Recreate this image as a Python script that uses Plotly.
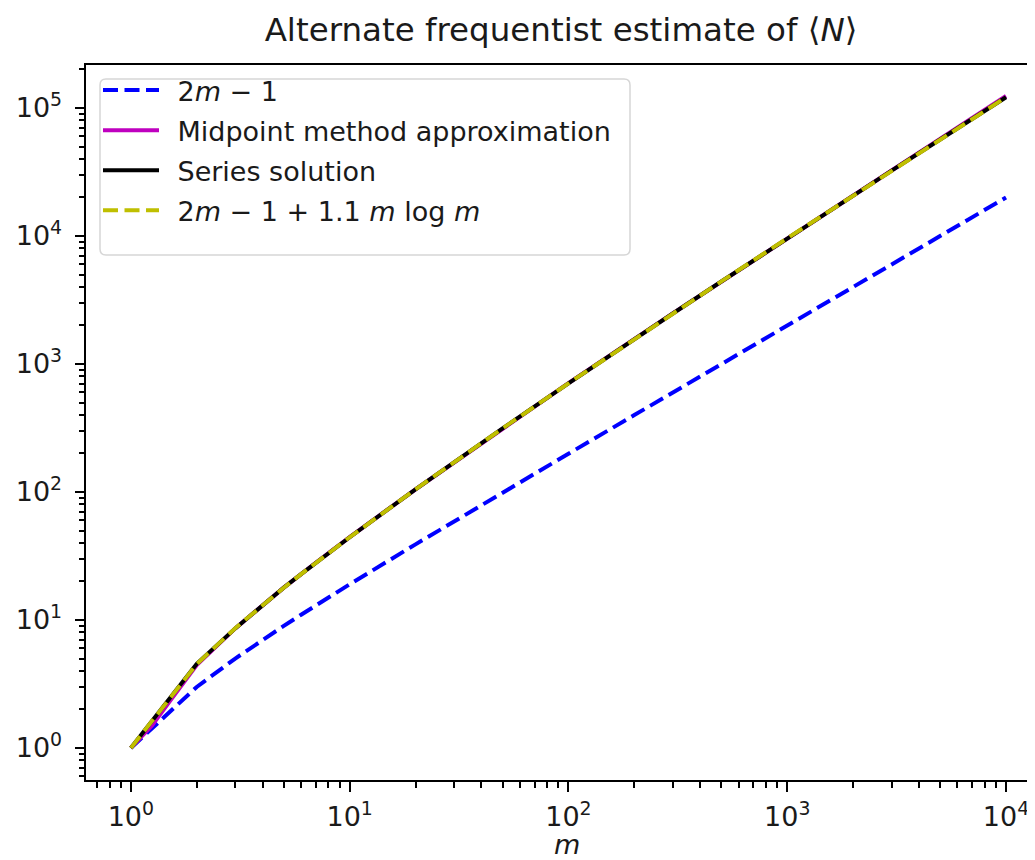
import plotly.graph_objects as go

# ---- data ----
m_int = [1, 2, 3, 4, 5, 6, 7, 8, 9, 10, 20, 30, 50, 100, 200, 300, 500,
         1000, 2000, 3000, 5000, 10000]
lin_vals = [1, 3, 5, 7, 9, 11, 13, 15, 17, 19, 39, 59, 99, 199, 399, 599, 999,
            1999, 3999, 5999, 9999, 19999]
series_vals = [1, 4.55, 8.6, 13.1, 17.9, 22.8, 28.0, 33.3, 38.8, 44.3, 105, 171,
               314, 706, 1570, 2480, 4410, 9600, 20700, 32400, 56800, 121300]
fit_vals = [1, 4.52, 8.63, 13.1, 17.85, 22.8, 27.98, 33.3, 38.75, 44.3, 104.9,
            171.2, 314, 706, 1565, 2482, 4417, 9598, 20720, 32420, 56840, 121300]
m_mid = [1, 1.25, 1.5, 1.75, 2, 3, 4, 5, 7, 10, 20, 50, 100, 300, 1000, 3000,
         10000]
mid_vals = [1, 1.5, 2.3, 3.3, 4.45, 8.6, 13.1, 17.9, 28.0, 44.4, 105, 315,
            708, 2490, 9620, 32500, 124000]

x_tick_vals = [1, 10, 100, 1000, 10000]
x_tick_text = ["10<sup>0</sup>", "10<sup>1</sup>", "10<sup>2</sup>",
               "10<sup>3</sup>", "10<sup>4</sup>"]
y_tick_vals = [1, 10, 100, 1000, 10000, 100000]
y_tick_text = ["10<sup>0</sup>", "10<sup>1</sup>", "10<sup>2</sup>",
               "10<sup>3</sup>", "10<sup>4</sup>", "10<sup>5</sup>"]

title_text = "Alternate frequentist estimate of ⟨<i>N</i>⟩"
x_label = "<i>m</i>"
names = ["2<i>m</i> − 1", "Midpoint method approximation", "Series solution",
         "2<i>m</i> − 1 + 1.1 <i>m</i> log <i>m</i>"]

# minor tick positions (axis decoration)
minor_x = [d * 10 ** k for k in range(-1, 5) for d in range(2, 10)]
minor_y = [d * 10 ** k for k in range(-1, 6) for d in range(2, 10)]

FONT = "DejaVu Sans"
TXT = "#1a1a1a"
LW = 4
DASH = "15px,6.5px"

# plot-area geometry in pixels
W, H = 1035, 860
L, R, T, B = 78, 1035, 57, 772
PW, PH = R - L, B - T


def px(xp):
    return (xp - L) / PW


def py(yp):
    return (B - yp) / PH


fig = go.Figure()
styles = [dict(color="#0000ff", width=LW, dash=DASH),
          dict(color="#bf00bf", width=LW),
          dict(color="#000000", width=LW),
          dict(color="#bfbf00", width=LW, dash=DASH)]
xs = [m_int, m_mid, m_int, m_int]
ys = [lin_vals, mid_vals, series_vals, fit_vals]
for i in range(4):
    fig.add_trace(go.Scatter(x=xs[i], y=ys[i], mode="lines",
                             name="\u2002" + names[i],
                             legendgroup=f"g{i}", line=styles[i]))

axis_common = dict(
    type="log", showgrid=False, zeroline=False, showline=True,
    linecolor="black", linewidth=2.2, ticks="outside", ticklen=9.4,
    tickwidth=2.2, tickcolor="black",
    tickfont=dict(family=FONT, size=27, color=TXT),
)

# legend frame (rounded rectangle)
x0, x1, y0, y1 = px(92), px(622), py(247), py(71)
rx, ry = 6 / PW, 6 / PH
frame = (f"M {x0+rx},{y1} L {x1-rx},{y1} Q {x1},{y1} {x1},{y1-ry} "
         f"L {x1},{y0+ry} Q {x1},{y0} {x1-rx},{y0} L {x0+rx},{y0} "
         f"Q {x0},{y0} {x0},{y0+ry} L {x0},{y1-ry} Q {x0},{y1} {x0+rx},{y1} Z")

fig.update_layout(
    width=W, height=H,
    margin=dict(l=L, r=W - R, t=T, b=H - B),
    paper_bgcolor="white", plot_bgcolor="white",
    font=dict(family=FONT, size=27, color=TXT),
    title=dict(text=title_text, x=553 / W, xanchor="center",
               y=1 - 22 / H, yanchor="middle",
               font=dict(family=FONT, size=32.5, color=TXT)),
    xaxis=dict(**axis_common, range=[-0.205, 4.169], mirror=True,
               tickmode="array", tickvals=x_tick_vals, ticktext=x_tick_text,
               ticklabelstandoff=2,
               minor=dict(tickmode="array", tickvals=minor_x, ticks="outside",
                          ticklen=5.4, tickwidth=1.6, tickcolor="black")),
    yaxis=dict(**axis_common, range=[-0.25, 5.336], mirror=False,
               tickmode="array", tickvals=y_tick_vals, ticktext=y_tick_text,
               ticklabelstandoff=7,
               minor=dict(tickmode="array", tickvals=minor_y, ticks="outside",
                          ticklen=5.4, tickwidth=1.6, tickcolor="black")),
    annotations=[dict(text=x_label, xref="paper", yref="paper",
                      x=px(559), y=py(836), xanchor="center", yanchor="middle",
                      showarrow=False,
                      font=dict(family=FONT, size=27, color=TXT))],
    shapes=[dict(type="path", xref="paper", yref="paper", path=frame,
                 fillcolor="rgba(255,255,255,0.8)",
                 line=dict(color="#d6d6d6", width=1.5), layer="above")],
    legend=dict(x=px(90), y=py(58), xanchor="left", yanchor="top",
                bgcolor="rgba(0,0,0,0)", borderwidth=0,
                font=dict(family=FONT, size=27, color=TXT),
                tracegroupgap=2, itemwidth=56),
    showlegend=True,
)

fig.write_html("out.html")
